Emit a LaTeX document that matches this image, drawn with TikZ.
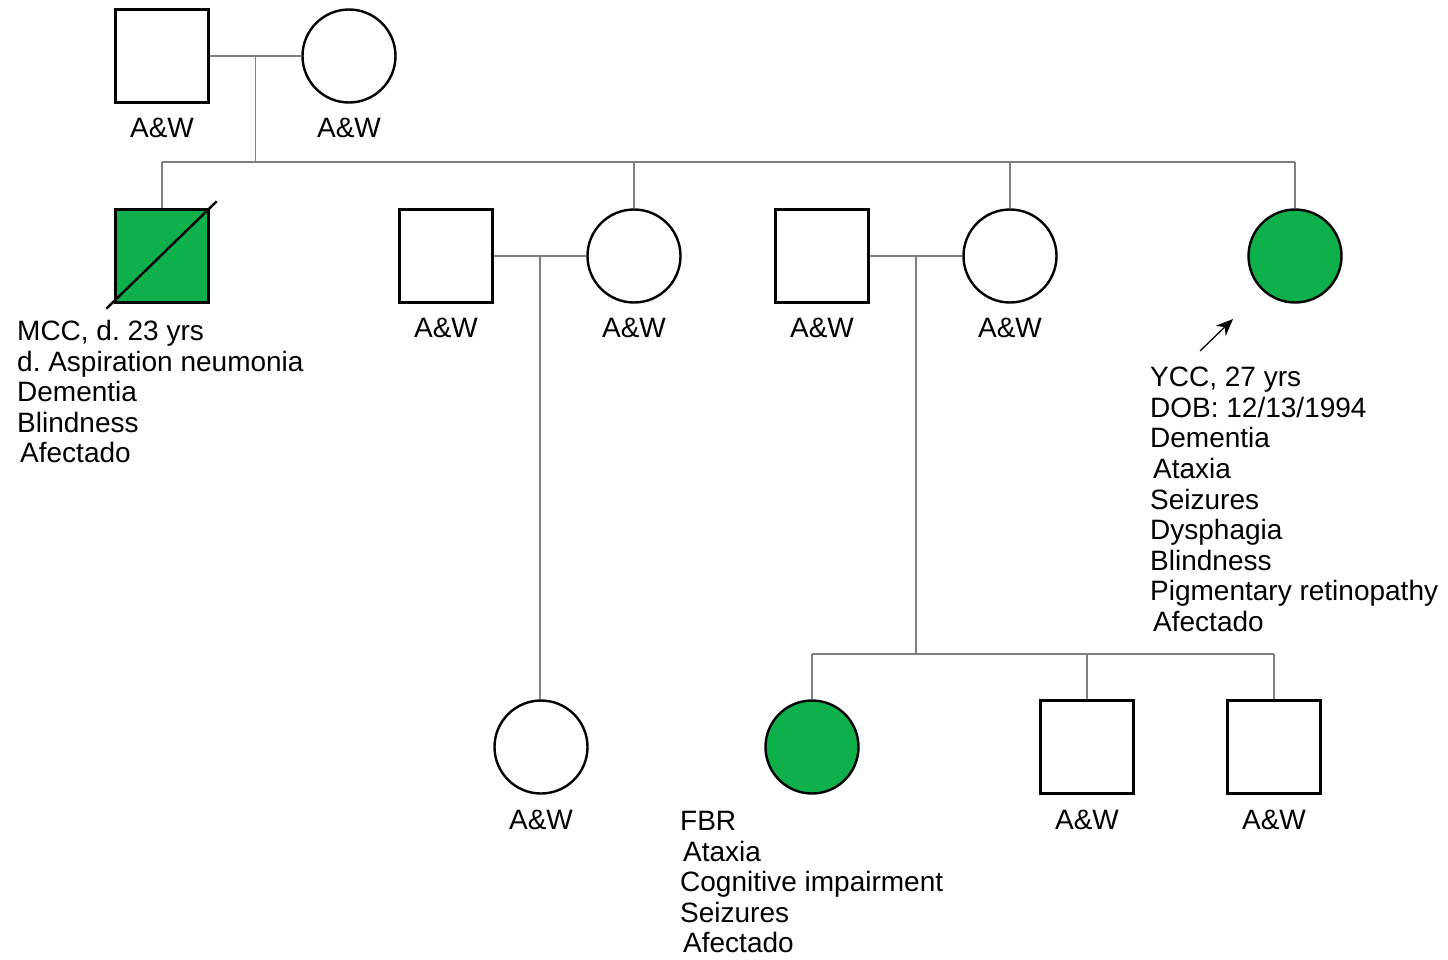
\documentclass[tikz,border=0pt]{standalone}
\usepackage{fontspec}
\setmainfont{Liberation Sans}
\usetikzlibrary{arrows.meta,calc,positioning}
\definecolor{affected}{HTML}{0DB04B}
\definecolor{kin}{HTML}{7F7F7F}
\frenchspacing

\begin{document}
\begin{tikzpicture}[
  x=1pt,y=-1pt,
  >=Stealth,
  font=\fontsize{28}{30.6}\selectfont,
  male/.style={
    draw=black,
    fill=white,
    line width=2.4pt,
    minimum size=93pt,
    inner sep=0pt
  },
  female/.style={
    circle,
    draw=black,
    fill=white,
    line width=2.4pt,
    minimum size=93pt,
    inner sep=0pt
  },
  affect/.style={fill=affected},
  tie/.style={kin,line width=1.8pt},
  aw/.style={inner sep=0pt},
  notes/.style={anchor=north west,align=left,inner sep=0pt}
]

\path[fill=white,use as bounding box] (0,0) rectangle (1448,959);

% generation I
\node[male]   (i1) at (162,56) {};
\node[female] (i2) at (349,56) {};

% generation II
\node[male,affect]   (ii1) at (162,256) {};
\node[male]          (ii2) at (446,256) {};
\node[female]        (ii3) at (634,256) {};
\node[male]          (ii4) at (822,256) {};
\node[female]        (ii5) at (1010,256) {};
\node[female,affect] (ii6) at (1295,256) {};

% generation III
\node[female]        (iii1) at (541,747) {};
\node[female,affect] (iii2) at (812,747) {};
\node[male]          (iii3) at (1087,747) {};
\node[male]          (iii4) at (1274,747) {};

% deceased
\draw[black,line width=2.4pt]
  ($(ii1.south west)+(-8,5)$) -- ($(ii1.north east)+(7,-7)$);

% unions and sibships
\coordinate (u1) at ($(i1.east)!.5!(i2.west)$);
\coordinate (u2) at ($(ii2.east)!.5!(ii3.west)$);
\coordinate (u3) at ($(ii4.east)!.5!(ii5.west)$);
\coordinate (s1) at ($(u1)+(0,106)$);
\coordinate (s2) at ($(u3)+(0,398)$);

\draw[tie] (i1.east) -- (i2.west);
\draw[tie] (u1) -- (s1);
\draw[tie] (ii1.north |- s1) -- (ii6.north |- s1);
\foreach \k in {ii1,ii3,ii5,ii6} {
  \draw[tie] (\k.north |- s1) -- (\k.north);
}

\draw[tie] (ii2.east) -- (ii3.west);
\draw[tie] (u2) -- (u2 |- iii1.north);

\draw[tie] (ii4.east) -- (ii5.west);
\draw[tie] (u3) -- (s2);
\draw[tie] (iii2.north |- s2) -- (iii4.north |- s2);
\foreach \k in {iii2,iii3,iii4} {
  \draw[tie] (\k.north |- s2) -- (\k.north);
}

% proband
\coordinate (ptail) at (1200,351);
\coordinate (phead) at (1233,319);
\draw[black,line width=1.3pt,-{Stealth[length=17pt,width=14pt]}]
  (ptail) -- (phead);

% labels
\foreach \n/\x/\y in {a/162/128,b/349/128,c/446/328,d/634/328,
                      e/822/328,f/1010/328,g/541/820,h/1087/820,
                      k/1274/820} {
  \node[aw] (aw\n) at (\x,\y) {A\&W};
}

\node[notes] (mcc) at (17,320)
  {MCC, d. 23 yrs\\
   d. Aspiration neumonia\\
   Dementia\\
   Blindness\\
   \kern3pt Afectado};

\node[notes] (ycc) at (1150,367)
  {YCC, 27 yrs\\
   DOB: 12/13/1994\\
   Dementia\\
   \kern3pt Ataxia\\
   Seizures\\
   Dysphagia\\
   Blindness\\
   Pigmentary retinopathy\\
   \kern3pt Afectado};

\node[notes] (fbr) at (680,811)
  {FBR\\
   \kern3pt Ataxia\\
   Cognitive impairment\\
   Seizures\\
   \kern3pt Afectado};

\end{tikzpicture}
\end{document}
